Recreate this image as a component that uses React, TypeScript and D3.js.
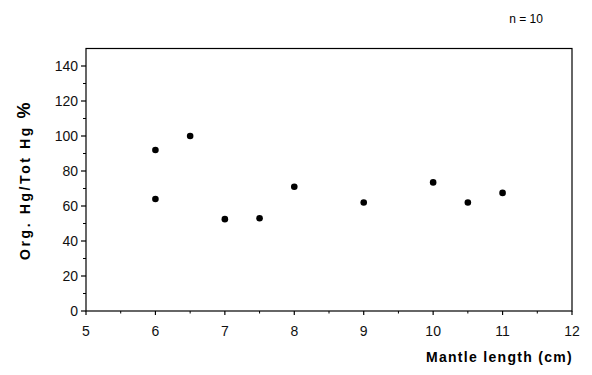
import React from "react";
import * as d3 from "d3";

const mantleLength = [6, 6, 6.5, 7, 7.5, 8, 9, 10, 10.5, 11];
const orgRatio = [92, 64, 100, 52.5, 53, 71, 62, 73.5, 62, 67.5];
const xTicks = [5, 6, 7, 8, 9, 10, 11, 12];
const yTicks = [0, 20, 40, 60, 80, 100, 120, 140];

const W = 592, H = 375;
const M = { left: 86, right: 20, top: 48.5, bottom: 64 };

export default function App() {
  const x = d3.scaleLinear().domain([5, 12]).range([M.left, W - M.right]);
  const y = d3.scaleLinear().domain([0, 150]).range([H - M.bottom, M.top]);
  const xMinor = d3.range(5.5, 12, 1);
  const yMinor = d3.range(10, 150, 20);
  const font = "Liberation Sans, Arial, Helvetica, sans-serif";
  const x0 = x(5), x1 = x(12), y0 = y(0), y1 = y(150);
  return (
    <svg width={W} height={H} style={{ position: "absolute", left: 0, top: 0, background: "#fff" }} fontFamily={font}>
      <rect x={x0} y={y1} width={x1 - x0} height={y0 - y1} fill="none" stroke="#000" strokeWidth={1.2} />
      {xTicks.map((t) => (
        <g key={"xt" + t}>
          <line x1={x(t)} x2={x(t)} y1={y0} y2={y0 + 4} stroke="#000" strokeWidth={1.2} />
          <text x={x(t)} y={y0 + 25} textAnchor="middle" fontSize={14} fill="#111">{t}</text>
        </g>
      ))}
      {xMinor.map((t) => (
        <line key={"xm" + t} x1={x(t)} x2={x(t)} y1={y0} y2={y0 + 2.5} stroke="#000" strokeWidth={1} />
      ))}
      {yTicks.map((t) => (
        <g key={"yt" + t}>
          <line x1={x0 - 5} x2={x0} y1={y(t)} y2={y(t)} stroke="#000" strokeWidth={1.2} />
          <text x={x0 - 8} y={y(t) + 5} textAnchor="end" fontSize={14} fill="#111">{t}</text>
        </g>
      ))}
      {yMinor.map((t) => (
        <line key={"ym" + t} x1={x0 - 3} x2={x0} y1={y(t)} y2={y(t)} stroke="#000" strokeWidth={1} />
      ))}
      {mantleLength.map((m, i) => (
        <circle key={"p" + i} cx={x(m)} cy={y(orgRatio[i])} r={3.3} fill="#000" />
      ))}
      <text x={x1 + 1} y={362} textAnchor="end" fontSize={14} fontWeight="bold" letterSpacing={1.3} fill="#000">Mantle length (cm)</text>
      <text transform={`translate(30, 180) rotate(-90)`} textAnchor="middle" fontSize={14} fontWeight="bold" letterSpacing={2.6} fill="#000">
        Org. Hg/Tot Hg <tspan fontSize={18}>%</tspan>
      </text>
      <text x={526} y={23} textAnchor="middle" fontSize={12} fill="#000">n = 10</text>
    </svg>
  );
}
